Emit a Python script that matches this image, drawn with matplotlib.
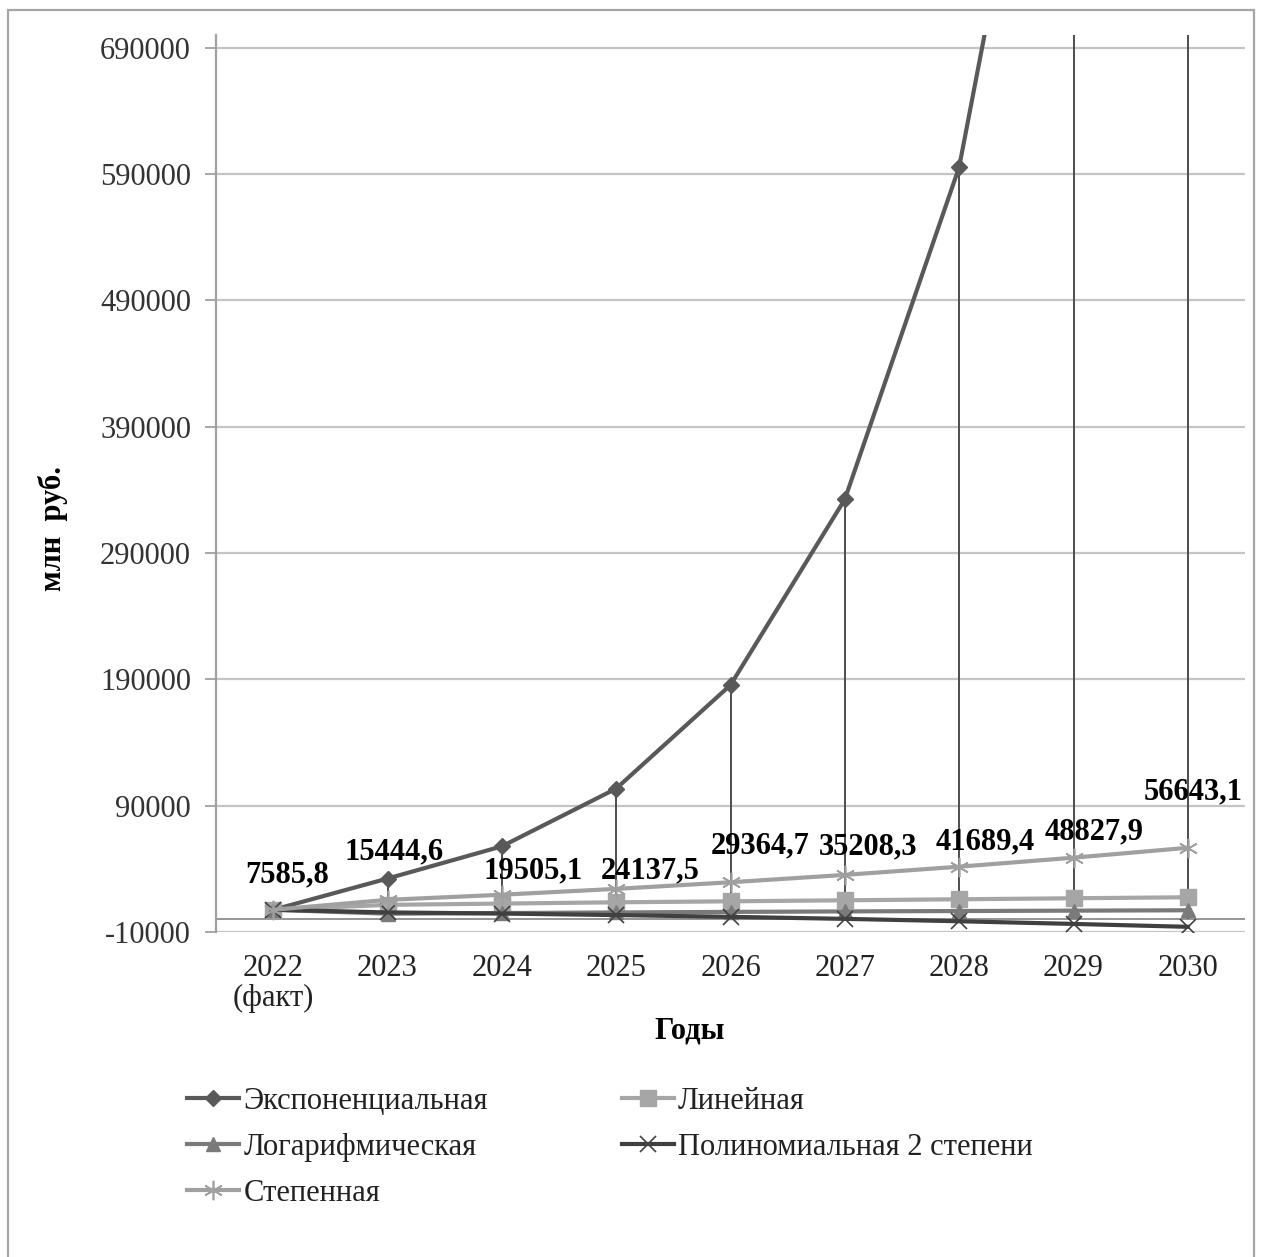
import matplotlib
matplotlib.use("Agg")
from matplotlib import pyplot as plt
from matplotlib.patches import Rectangle

plt.rcParams["font.family"] = ["Liberation Serif", "DejaVu Serif"]
plt.rcParams["font.size"] = 22

# Годы прогноза
years = ["2022\n(факт)", "2023", "2024", "2025", "2026", "2027", "2028", "2029", "2030"]

# Тренды, млн руб.
exponential = [7585.8, 32300, 57800, 103500, 185500, 332500, 595500, 1067000, 1911000]
linear = [7585.8, 11500, 12500, 13500, 14300, 15100, 15900, 16700, 17500]
logarithmic = [7585.8, 4500, 5000, 5500, 5900, 6300, 6600, 6900, 7200]
polynomial = [7585.8, 5500, 4600, 3400, 2000, 400, -1500, -3600, -5900]
power = [7585.8, 15444.6, 19505.1, 24137.5, 29364.7, 35208.3, 41689.4, 48827.9, 56643.1]

y_ticks = [-10000, 90000, 190000, 290000, 390000, 490000, 590000, 690000]

# сдвиг подписей значений, пиксели
label_dx = [14, 7, 31, 34, 30, 23, 26, 21, 5]
label_dy = [35, 48, 24, 18, 36, 28, 25, 26, 56]

fig = plt.figure(figsize=(12.61, 12.57), dpi=100)
fig.patches.append(Rectangle((8 / 1261, -0.01), 1246 / 1261, 1 - 10 / 1257 + 0.01,
                             transform=fig.transFigure, fill=False,
                             edgecolor="#a6a6a6", linewidth=1.6))

ax = fig.add_axes([216 / 1261, 1 - 932 / 1257, 1029 / 1261, 897 / 1257])
x = list(range(len(years)))

ax.set_xlim(-0.5, len(years) - 0.5)
ax.set_ylim(-10000, 700000)
ax.set_yticks(y_ticks)
ax.set_yticklabels([str(v) for v in y_ticks], color="#333333")
ax.set_xticks(x)
ax.set_xticklabels(years, color="#222222", linespacing=1.05)
ax.tick_params(axis="x", length=0, pad=16)
ax.tick_params(axis="y", length=8, width=1.3, color="#a0a0a0", pad=10)

for side in ("top", "right", "bottom"):
    ax.spines[side].set_visible(False)
ax.spines["left"].set_color("#a0a0a0")
ax.spines["left"].set_linewidth(1.6)

ax.grid(axis="y", color="#c4c4c4", linewidth=1.6)
ax.set_axisbelow(True)
ax.axhline(0, color="#8c8c8c", linewidth=1.3, zorder=1)

# линии проекции от верхнего ряда к оси
ax.vlines(x, 0, exponential, color="#4d4d4d", linewidth=1.4, zorder=2)

ax.plot(x, exponential, color="#595959", linewidth=3, marker="D", markersize=8,
        label="Экспоненциальная", zorder=3)
ax.plot(x, linear, color="#a6a6a6", linewidth=3, marker="s", markersize=11,
        label="Линейная", zorder=3)
ax.plot(x, logarithmic, color="#7a7a7a", linewidth=3, marker="^", markersize=10,
        label="Логарифмическая", zorder=3)
ax.plot(x, polynomial, color="#404040", linewidth=3, marker="x", markersize=12,
        markeredgewidth=1.2, label="Полиномиальная 2 степени", zorder=3)
ax.plot(x, power, color="#a0a0a0", linewidth=3, marker=(6, 2, 0), markersize=14,
        markeredgewidth=1.2, label="Степенная", zorder=3)

for i, v in enumerate(power):
    ax.annotate(f"{v:.1f}".replace(".", ","), (x[i], v),
                xytext=(label_dx[i], label_dy[i]), textcoords="offset pixels",
                ha="center", va="center", fontweight="bold", color="black", zorder=5)

fig.text(53 / 1261, 1 - 528 / 1257, "млн  руб.", rotation=90, ha="center",
         va="center", fontweight="bold")
fig.text(690 / 1261, 1 - 1031 / 1257, "Годы", ha="center", va="center",
         fontweight="bold")

handles, labels = ax.get_legend_handles_labels()
order = [0, 2, 4, 1, 3]
fig.legend([handles[i] for i in order], [labels[i] for i in order],
           ncol=2, frameon=False, loc="upper left",
           bbox_to_anchor=(187 / 1261, 1 - 1087 / 1257),
           handlelength=1.7, handletextpad=0.15, columnspacing=4.37,
           labelspacing=0.55, borderaxespad=0, borderpad=0,
           labelcolor="#222222")

fig.savefig("out.png", dpi=100)
